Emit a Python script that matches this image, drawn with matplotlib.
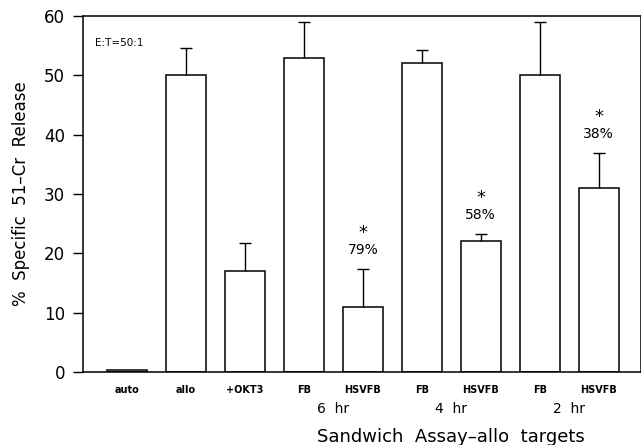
import matplotlib
matplotlib.use("Agg")
import matplotlib.pyplot as plt
import numpy as np

categories = ["auto", "allo", "+OKT3", "FB", "HSVFB", "FB", "HSVFB", "FB", "HSVFB"]
release = [0.4, 50.0, 17.0, 53.0, 11.0, 52.0, 22.0, 50.0, 31.0]
err_top = [0.4, 54.6, 21.8, 59.0, 17.4, 54.3, 23.3, 59.0, 36.9]
groups = ["6  hr", "4  hr", "2  hr"]
group_between = [(3, 4), (5, 6), (7, 8)]
inhibition = {4: "79%", 6: "58%", 8: "38%"}

plt.rcParams["font.family"] = ["DejaVu Sans"]

fig = plt.figure(figsize=(6.41, 4.45), dpi=100)
ax = fig.add_axes([0.1295, 0.164, 0.8705, 0.800])

x = np.arange(len(categories))
ax.bar(x, release, width=0.68, color="white", edgecolor="black", linewidth=1.1)
# upward-only error bars with a single cap
ax.vlines(x[1:], release[1:], err_top[1:], color="black", linewidth=1.0)
ax.plot(x[1:], err_top[1:], linestyle="none", marker="_", markersize=8,
        markeredgewidth=1.0, color="black")

for i, lab in inhibition.items():
    ax.text(i, err_top[i] + 6.0, "*", ha="center", va="center", fontsize=13)
    ax.text(i, err_top[i] + 3.2, lab, ha="center", va="center", fontsize=10)

ax.text(-0.55, 55.5, "E:T=50:1", fontsize=7.5, ha="left", va="center")

ax.set_xlim(-0.75, 8.72)
ax.set_ylim(0, 60)
ax.set_yticks(range(0, 61, 10))
ax.tick_params(axis="y", direction="out", length=7, width=1, labelsize=12, pad=6)
ax.set_xticks(x)
ax.set_xticklabels(categories, fontsize=7, fontweight="bold")
ax.tick_params(axis="x", length=0, pad=9)

for (a, b), g in zip(group_between, groups):
    ax.text((a + b) / 2, -6.2, g, ha="center", va="center", fontsize=10)

ax.set_ylabel("%  Specific  51\u2013Cr  Release", fontsize=12, labelpad=10)
ax.text(5.5, -11.0, "Sandwich  Assay\u2013allo  targets", ha="center", va="center", fontsize=13)

for s in ax.spines.values():
    s.set_linewidth(1.1)

fig.savefig("out.png", dpi=100)
